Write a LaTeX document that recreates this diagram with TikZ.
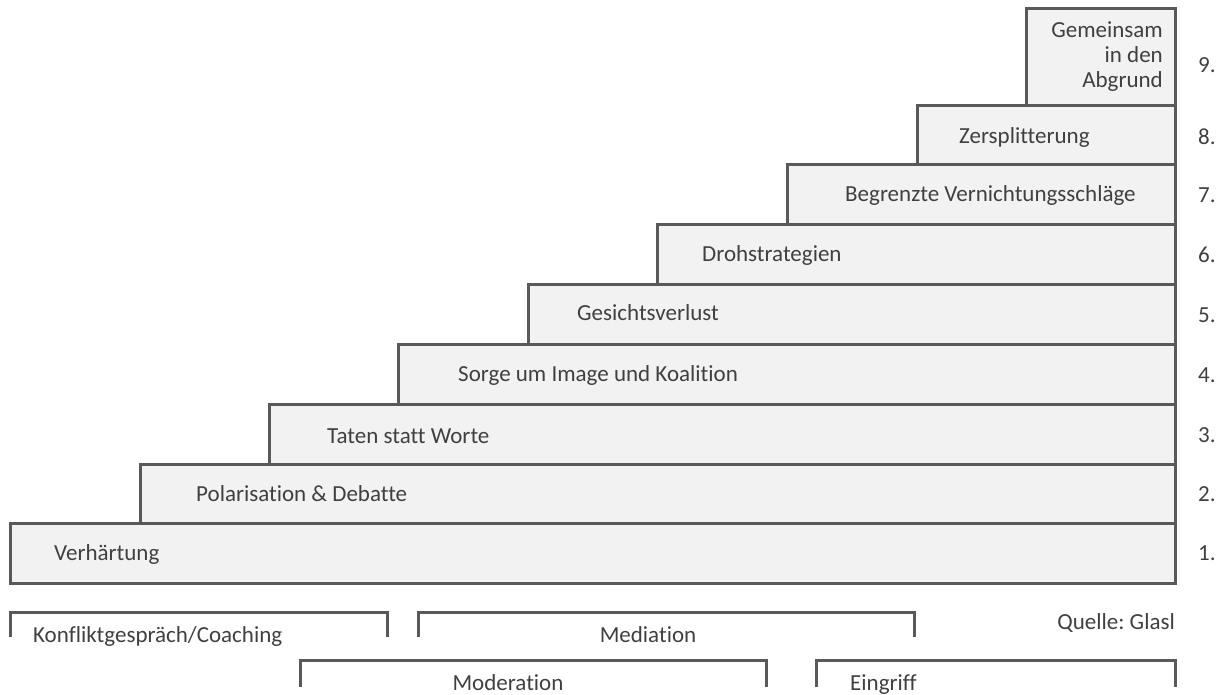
\documentclass[tikz,border=0pt]{standalone}
\usepackage{fontspec}
\setmainfont{Carlito}[Ligatures=CommonOff]
\frenchspacing
\definecolor{stepline}{HTML}{595959}
\definecolor{stepfill}{HTML}{F2F2F2}
\definecolor{steptext}{HTML}{404040}
\begin{document}
\begin{tikzpicture}[x=1pt,y=-1pt,line join=miter,
	stepbox/.style={draw=stepline,fill=stepfill,line width=3pt},
	bracketline/.style={draw=stepline,line width=3pt},
	steplabel/.style={anchor=base west,inner sep=0pt,text=steptext,font=\fontsize{23}{25}\selectfont},
	stepnum/.style={steplabel},
	helplabel/.style={steplabel,anchor=base}]
	\useasboundingbox (0,0) rectangle (1222,695);
	% Stufen von unten nach oben
	\foreach \l/\t/\b in {10/523/583,140/464/523,269/404/464,398/344/404,528/284/344,657/224/284,787/165/224,917/106/165,1026/9/106}
	\draw[stepbox] (\l,\t) rectangle (1175,\b);
	\node[steplabel] (s1) at (54,560) {Verhärtung};
	\node[steplabel] (s2) at (196,501) {Polarisation \& Debatte};
	\node[steplabel] (s3) at (327,443) {Taten statt Worte};
	\node[steplabel] (s4) at (458,381) {Sorge um Image und Koalition};
	\node[steplabel] (s5) at (577,320) {Gesichtsverlust};
	\node[steplabel] (s6) at (702,261) {Drohstrategien};
	\node[steplabel] (s7) at (845,201) {Begrenzte Vernichtungsschläge};
	\node[steplabel] (s8) at (959,144) {Zersplitterung};
	\node[steplabel,anchor=east,align=right] (s9) at (1163,57) {Gemeinsam\\in den\\Abgrund};
	\foreach \n/\y in {1/560,2/501,3/442,4/382,5/322,6/262,7/202,8/145,9/73}
	\node[stepnum] (n\n) at (1198,\y) {\n.};
	% Hilfen
	\draw[bracketline] (10,637)--(10,612)--(387,612)--(387,637);
	\draw[bracketline] (418,637)--(418,612)--(914,612)--(914,637);
	\draw[bracketline] (300,687)--(300,660)--(766,660)--(766,687);
	\draw[bracketline] (816,687)--(816,660)--(1175,660)--(1175,687);
	\node[steplabel] (h1) at (33,642) {Konfliktgespräch/Coaching};
	\node[helplabel] (h2) at (648,642) {Mediation};
	\node[helplabel] (h3) at (508,690) {Moderation};
	\node[steplabel] (h4) at (850,690) {Eingriff};
	\node[steplabel,anchor=base east] (q) at (1175,629) {Quelle: Glasl};
\end{tikzpicture}
\end{document}
